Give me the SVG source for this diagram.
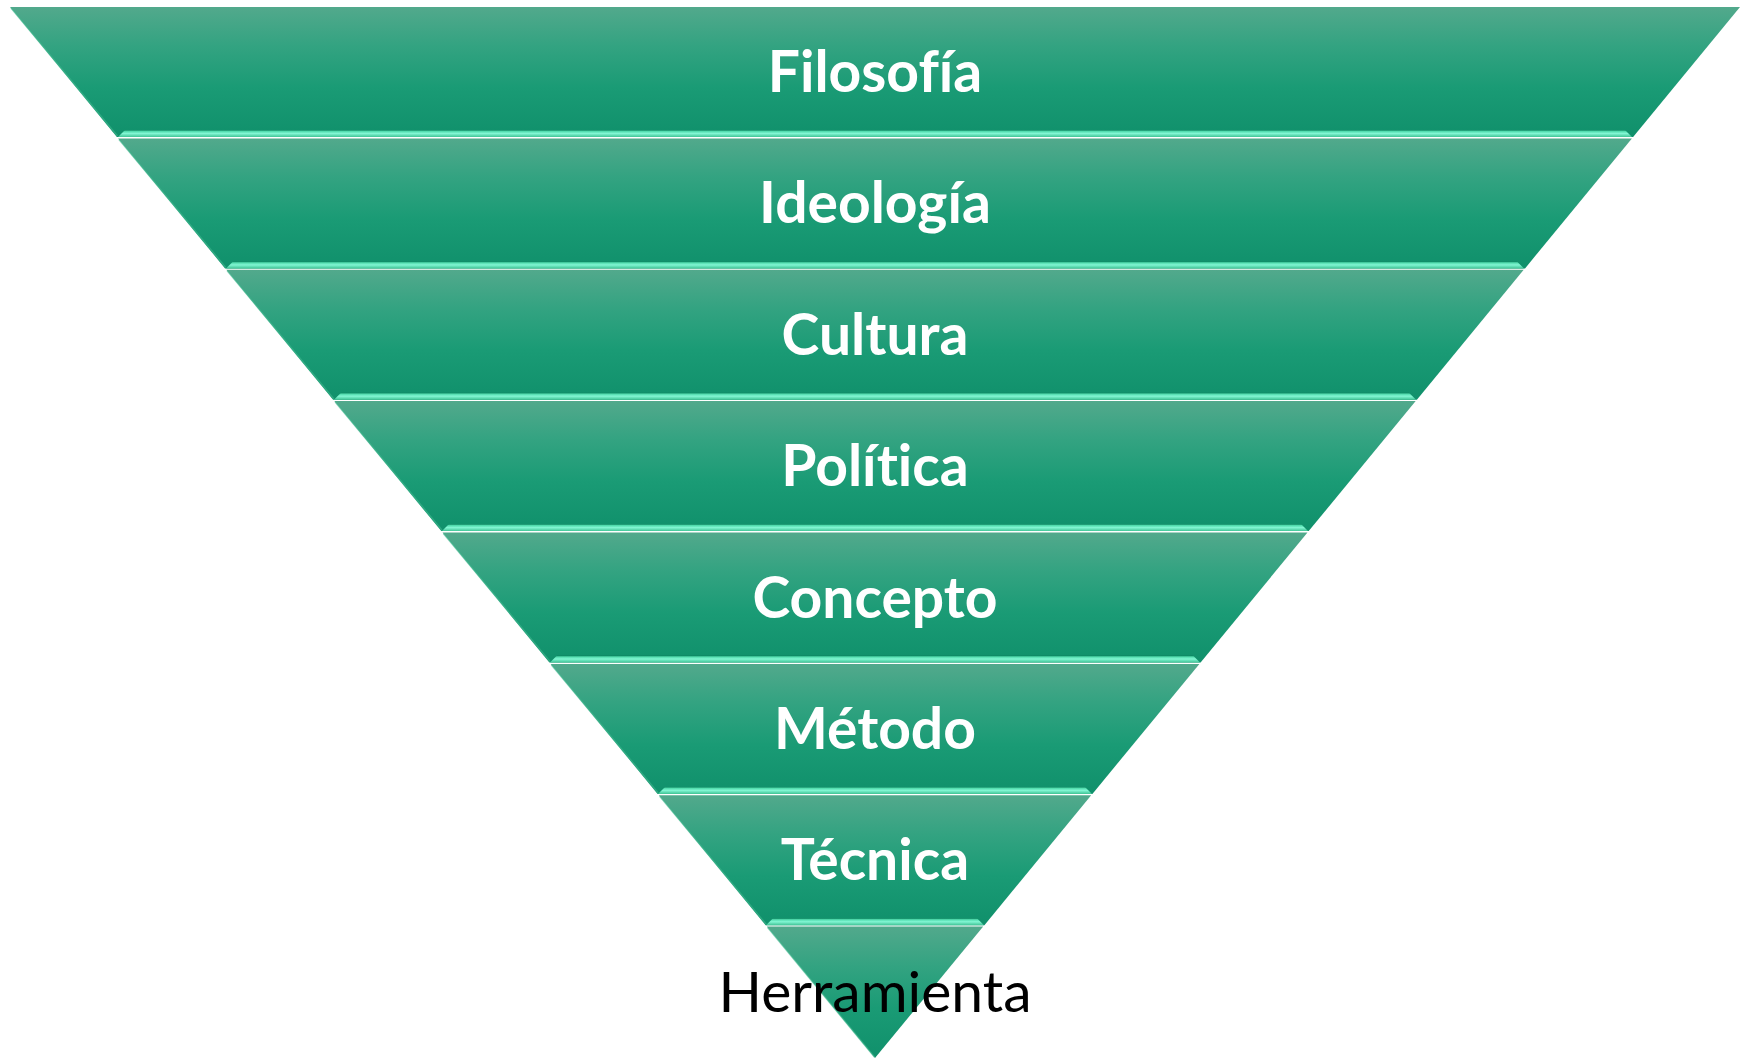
<svg xmlns="http://www.w3.org/2000/svg" width="1741" height="1058" viewBox="0 0 1741 1058">
<defs>
<linearGradient id="bandFill" x1="0" y1="0" x2="0" y2="1">
<stop offset="0" stop-color="#52a98c"/>
<stop offset="0.3" stop-color="#33a381"/>
<stop offset="0.62" stop-color="#1a9b75"/>
<stop offset="1" stop-color="#10906b"/>
</linearGradient>
<linearGradient id="lipFill" x1="0" y1="0" x2="0" y2="1">
<stop offset="0" stop-color="#0d8460"/>
<stop offset="0.2" stop-color="#52dcae"/>
<stop offset="0.5" stop-color="#82f6d3"/>
<stop offset="1" stop-color="#3fc495"/>
</linearGradient>
</defs>
<style>
.band{fill:url(#bandFill);}
.edge{fill:none;stroke:#3fb78e;stroke-width:1.5;stroke-opacity:0.6;}
.lip{fill:url(#lipFill);}
.lbl{font-family:Lato,"Open Sans","Liberation Sans",sans-serif;font-weight:700;font-size:57px;fill:#ffffff;text-anchor:middle;font-variant-ligatures:none;}
.lbl2{font-family:Lato,"Open Sans","Liberation Sans",sans-serif;font-weight:400;font-size:57px;fill:#000000;text-anchor:middle;font-variant-ligatures:none;}
</style>
<rect width="1741" height="1058" fill="#ffffff"/>
<g id="connectors"/>
<g id="band-filosofia">
<polygon class="band" points="10,7 1740,7 1633.1,137 116.9,137"/>
<polyline class="edge" points="11,8 117.5,136"/>
<polygon class="lip" points="118,137 125,130 1625,130 1632,137"/>
<text class="lbl" x="875" y="92">Filosofía</text>
</g>
<g id="band-ideologia">
<polygon class="band" points="118.1,138.4 1631.9,138.4 1525,268.4 225.1,268.4"/>
<polyline class="edge" points="119,139.4 225.7,267.4"/>
<polygon class="lip" points="226,268.4 233,261.4 1517,261.4 1524,268.4"/>
<text class="lbl" x="875" y="223.4">Ideología</text>
</g>
<g id="band-cultura">
<polygon class="band" points="226.3,269.8 1523.7,269.8 1416.9,399.7 333.1,399.7"/>
<polyline class="edge" points="227.2,270.8 333.7,398.7"/>
<polygon class="lip" points="334,399.7 341,392.7 1409,392.7 1416,399.7"/>
<text class="lbl" x="875" y="354.8">Cultura</text>
</g>
<g id="band-politica">
<polygon class="band" points="334.3,401.1 1415.7,401.1 1308.7,531.1 441.3,531.1"/>
<polyline class="edge" points="335.2,402.1 441.9,530.1"/>
<polygon class="lip" points="442,531.1 449,524.1 1301,524.1 1308,531.1"/>
<text class="lbl" x="875" y="486.2">Política</text>
</g>
<g id="band-concepto">
<polygon class="band" points="442.5,532.5 1307.5,532.5 1200.6,662.5 549.4,662.5"/>
<polyline class="edge" points="443.4,533.5 550,661.5"/>
<polygon class="lip" points="550,662.5 557,655.5 1193,655.5 1200,662.5"/>
<text class="lbl" x="875" y="617.6">Concepto</text>
</g>
<g id="band-metodo">
<polygon class="band" points="550.6,663.9 1199.4,663.9 1092.4,793.9 657.6,793.9"/>
<polyline class="edge" points="551.5,664.9 658.2,792.9"/>
<polygon class="lip" points="658,793.9 665,786.9 1085,786.9 1092,793.9"/>
<text class="lbl" x="875" y="749">Método</text>
</g>
<g id="band-tecnica">
<polygon class="band" points="658.8,795.3 1091.2,795.3 984.4,925.2 765.6,925.2"/>
<polyline class="edge" points="659.7,796.3 766.2,924.2"/>
<polygon class="lip" points="766,925.2 773,918.2 977,918.2 984,925.2"/>
<text class="lbl" x="875" y="880.4">Técnica</text>
</g>
<g id="band-herramienta">
<polygon class="band" points="766.8,926.6 983.2,926.6 875,1058"/>
<polyline class="edge" points="767.7,927.6 874.5,1057"/>
<text class="lbl2" x="875" y="1011.5">Herramienta</text>
</g>
</svg>
